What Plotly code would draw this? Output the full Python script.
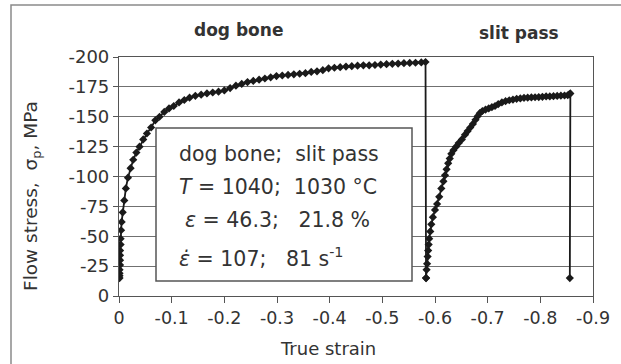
import plotly.graph_objects as go

# ---- data ----
dog_x = [-0.001, -0.001, -0.001, -0.001, -0.002, -0.002, -0.002, -0.002, -0.003, -0.003,
         -0.004, -0.005, -0.007, -0.010, -0.013, -0.017, -0.022, -0.027, -0.033, -0.039,
         -0.046, -0.053, -0.061, -0.069, -0.077, -0.086, -0.095, -0.104, -0.114, -0.124,
         -0.134, -0.145, -0.156, -0.167, -0.178, -0.189, -0.200, -0.211, -0.222, -0.233,
         -0.244, -0.255, -0.266, -0.277, -0.288, -0.299, -0.310, -0.321, -0.332, -0.343,
         -0.354, -0.365, -0.376, -0.387, -0.398, -0.409, -0.420, -0.431, -0.442, -0.453,
         -0.464, -0.475, -0.486, -0.497, -0.508, -0.519, -0.530, -0.541, -0.552, -0.563,
         -0.574, -0.582, -0.583]
dog_y = [-15, -17, -19, -22, -26, -30, -34, -38, -43, -48,
         -55, -62, -70, -80, -90, -99, -107, -114, -120, -125,
         -131, -136, -141, -147, -150, -154, -157, -159, -162, -164,
         -166, -167.5, -168.5, -169.5, -170.3, -171, -172, -174, -176, -177.5,
         -179, -180, -181, -182, -183, -184, -184.5, -185, -185.5, -186,
         -186.5, -187.5, -188, -189, -190.5, -191, -191.5, -192, -192.3, -192.7,
         -193, -193, -193.3, -193.7, -194, -194.3, -194.5, -194.8, -195, -195.2,
         -195.5, -195.8, -15]

slit_x = [-0.583, -0.584, -0.585, -0.586, -0.587, -0.588, -0.589, -0.591, -0.593, -0.596,
          -0.600, -0.604, -0.608, -0.612, -0.616, -0.619, -0.622, -0.625, -0.628, -0.631,
          -0.635, -0.640, -0.645, -0.651, -0.657, -0.662, -0.667, -0.672, -0.677, -0.681,
          -0.685, -0.690, -0.696, -0.702, -0.708, -0.714, -0.720, -0.727, -0.734, -0.741,
          -0.748, -0.755, -0.762, -0.769, -0.776, -0.783, -0.790, -0.797, -0.804, -0.811,
          -0.818, -0.825, -0.832, -0.839, -0.846, -0.852, -0.855, -0.857, -0.856]
slit_y = [-15, -22, -27, -33, -38, -43, -48, -54, -60, -66,
          -72, -77, -83, -90, -96, -101, -106, -111, -115, -119,
          -122, -125, -128, -131, -135, -138, -141, -144, -147.5, -150.5,
          -153, -154.8, -156, -157, -158, -159, -160.5, -162, -163, -163.8,
          -164.4, -165, -165.3, -165.8, -166, -166.2, -166.3, -166.5, -166.7, -167,
          -167, -167.2, -167.4, -167.6, -167.8, -168, -168.8, -169.5, -15]

y_ticks = [0, -25, -50, -75, -100, -125, -150, -175, -200]
y_labels = ["0", "-25", "-50", "-75", "-100", "-125", "-150", "-175", "-200"]
x_ticks = [0, -0.1, -0.2, -0.3, -0.4, -0.5, -0.6, -0.7, -0.8, -0.9]
x_labels = ["0", "-0.1", "-0.2", "-0.3", "-0.4", "-0.5", "-0.6", "-0.7", "-0.8", "-0.9"]

panel_titles = ["dog bone", "slit pass"]
info_lines = [
    "dog bone;\u00a0\u00a0slit pass",
    "<i>T</i> = 1040;\u00a0\u00a01030 °C",
    "<i>ε</i> = 46.3;\u00a0\u00a0\u00a021.8 %",
    "<i>ε̇</i> = 107;\u00a0\u00a0\u00a081 s<sup>-1</sup>",
]

assert len(dog_x) == len(dog_y) and len(slit_x) == len(slit_y)

W, H = 621, 364
L, R, T, B = 119, 28, 57, 68
PW, PH = W - L - R, H - T - B
FONT = "DejaVu Sans"
TXT = "#333333"
INK = "#1a1a1a"


def px(x):
    return (x - L) / PW


def py(y):
    return (H - B - y) / PH


fig = go.Figure()
for xs, ys in [(dog_x, dog_y), (slit_x, slit_y)]:
    fig.add_trace(go.Scatter(
        x=xs, y=ys, mode="lines+markers",
        line=dict(color=INK, width=1.8),
        marker=dict(symbol="diamond", size=6.3, color=INK),
        showlegend=False, hoverinfo="skip"))

annotations = []
# panel titles
for text, (cx, cy) in zip(panel_titles, [(238, 30), (519, 33)]):
    annotations.append(dict(text="<b>" + text + "</b>", x=px(cx), y=py(cy), xref="paper", yref="paper",
                            showarrow=False, xanchor="center", yanchor="middle",
                            font=dict(family=FONT, size=17, color=TXT)))
# info lines
for text, (lx, cy) in zip(info_lines, [(177, 154), (177, 187), (183, 220), (177, 257)]):
    annotations.append(dict(text=text, x=px(lx), y=py(cy), xref="paper", yref="paper",
                            showarrow=False, xanchor="left", yanchor="middle",
                            font=dict(family=FONT, size=20.5, color=TXT)))
# axis titles
annotations.append(dict(text="True strain", x=px(328), y=py(348), xref="paper", yref="paper",
                        showarrow=False, xanchor="center", yanchor="middle",
                        font=dict(family=FONT, size=18, color=TXT)))
annotations.append(dict(text="Flow stress,\u00a0\u00a0σ<sub>p</sub>, MPa", x=px(32), y=py(196),
                        xref="paper", yref="paper", textangle=-90,
                        showarrow=False, xanchor="center", yanchor="middle",
                        font=dict(family=FONT, size=18.5, color=TXT)))

shapes = [
    # outer chart frame
    dict(type="rect", xref="paper", yref="paper", x0=px(11), x1=px(625), y0=py(370), y1=py(5),
         line=dict(color="#8a8a8a", width=1.5), fillcolor="rgba(0,0,0,0)", layer="below"),
    # info box
    dict(type="rect", xref="paper", yref="paper", x0=px(156), x1=px(412), y0=py(281), y1=py(128),
         line=dict(color="#555555", width=1.5), fillcolor="white", layer="above"),
]

fig.update_layout(
    width=W, height=H,
    margin=dict(l=L, r=R, t=T, b=B, pad=0),
    paper_bgcolor="white", plot_bgcolor="white",
    font=dict(family=FONT, size=17, color=TXT),
    annotations=annotations, shapes=shapes,
    xaxis=dict(range=[0, -0.9], tickvals=x_ticks, ticktext=x_labels,
               showgrid=False, zeroline=False, showline=True, linecolor="#555555", linewidth=1.2,
               mirror=True, ticks="outside", ticklen=6, tickcolor="#555555", tickwidth=1.2,
               tickfont=dict(family=FONT, size=17.5, color=TXT)),
    yaxis=dict(range=[0, -200], tickvals=y_ticks, ticktext=y_labels,
               showgrid=True, gridcolor="#707070", gridwidth=1, zeroline=False,
               showline=True, linecolor="#555555", linewidth=1.2,
               mirror=True, ticks="outside", ticklen=5, tickcolor="#555555", tickwidth=1.2,
               tickfont=dict(family=FONT, size=18, color=TXT)),
)

fig.write_html("out.html")
